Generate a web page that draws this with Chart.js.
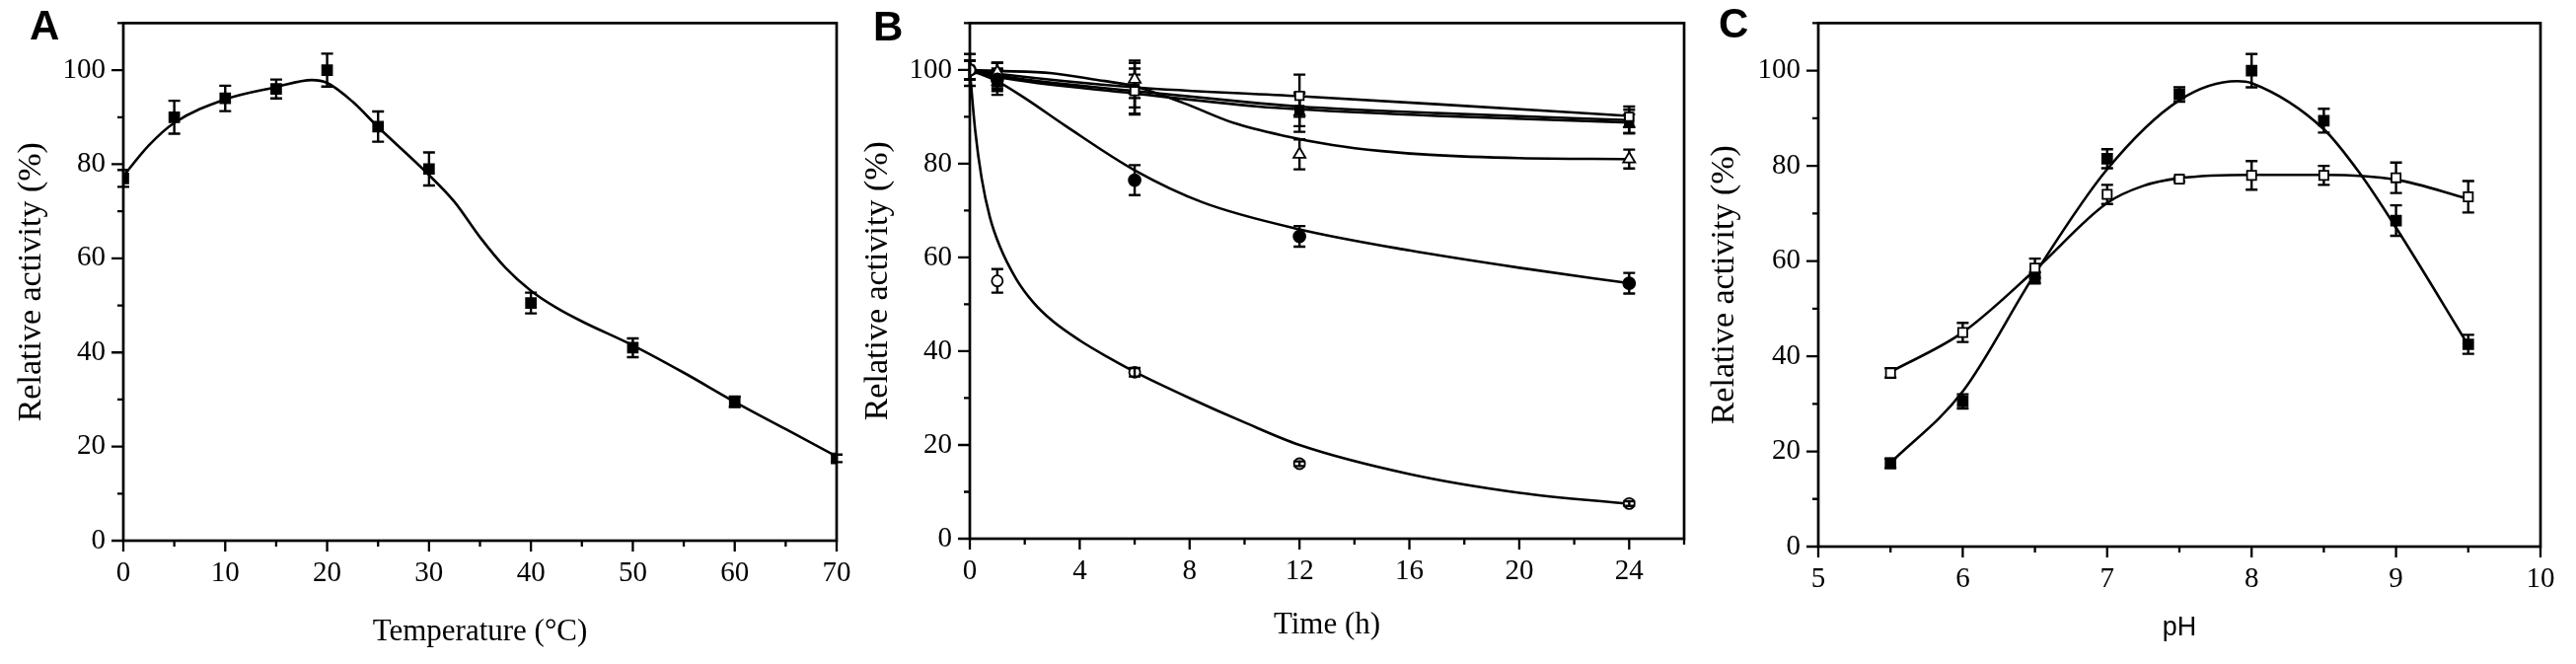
<!DOCTYPE html>
<html><head><meta charset="utf-8">
<script src="https://cdn.jsdelivr.net/npm/chart.js@4.4.0/dist/chart.umd.min.js"></script>
<style>
html,body{margin:0;padding:0;background:#fff;width:2611px;height:673px;overflow:hidden;}
.pane{position:absolute;top:0;height:673px;}
.letter{position:absolute;font:bold 42px "Liberation Sans",Arial,sans-serif;line-height:42px;color:#000;z-index:5;}
</style></head><body>
<div class="pane" style="left:0;width:870px"><canvas id="cA" width="870" height="673"></canvas></div>
<div class="pane" style="left:870px;width:855px"><canvas id="cB" width="855" height="673"></canvas></div>
<div class="pane" style="left:1725px;width:886px"><canvas id="cC" width="886" height="673"></canvas></div>
<div class="letter" style="left:30px;top:5px">A</div>
<div class="letter" style="left:885px;top:6px">B</div>
<div class="letter" style="left:1742px;top:3px">C</div>
<script>
// ---------- Panel A: temperature ----------
const tempX   = [0, 5, 10, 15, 20, 25, 30, 40, 50, 60, 70];
const tempY   = [77, 90, 94, 96, 100, 88, 79, 50.5, 41, 29.5, 17.5];
const tempErr = [1.8, 3.5, 2.7, 2, 3.5, 3.2, 3.5, 2.2, 2, 1.1, 0.8];
const tempFitX = [0, 2.5, 5, 10, 15, 18.5, 20, 22.5, 25, 30, 32.5, 35, 37.5, 40, 42.5, 45, 50, 55, 60, 65, 70];
const tempFitY = [77.5, 84, 88.8, 93.8, 96.4, 97.9, 97.3, 93.3, 87.9, 77.7, 72, 64.5, 58, 53.1, 49.5, 46.6, 41.5, 35.7, 29.5, 23.7, 17.9];

// ---------- Panel B: time ----------
const timeX = [0, 1, 6, 12, 24];
const bOpenCircle      = [100, 55, 35.5, 16, 7.5];
const bOpenCircleErr   = [3.4, 2.5, 0.9, 0.5, 0.5];
const bFilledCircle    = [100, 98, 76.5, 64.5, 54.5];
const bFilledCircleErr = [2, 2, 3.2, 2.2, 2.2];
const bOpenTri         = [100, 99.5, 98, 82, 81];
const bOpenTriErr      = [2, 2, 4, 3.2, 2];
const bOpenSq          = [100, 99, 95.5, 94.5, 90];
const bOpenSqErr       = [2, 2.5, 3.5, 4.5, 2.2];
const bFilledSq        = [100, 98.5, 96, 91.5, 89];
const bFilledSqErr     = [2, 3, 5.5, 3.5, 2.5];
const bFilledTri       = [100, 97.5, 95.5, 91, 88.5];
const bFilledTriErr    = [2, 2.8, 4.8, 4.2, 2];

const fitOpenCircleX = [0, 0.19, 0.43, 0.73, 1.09, 1.69, 2.3, 3, 4, 5, 6, 8, 10, 12, 16, 20, 24];
const fitOpenCircleY = [100, 87.4, 76.9, 68.6, 62.4, 55.4, 50.5, 46.5, 42.3, 38.8, 35.6, 30, 24.8, 20, 13.8, 9.8, 7.4];
const fitFilledCircleX = [0, 1, 2, 3.5, 6, 8.5, 12, 16, 20, 24];
const fitFilledCircleY = [100, 97.6, 94, 88, 78.6, 71.7, 66, 61.5, 57.8, 54.5];
const fitOpenTriX = [0, 1, 3, 4.5, 6, 7.8, 9.6, 11.4, 13.2, 15, 16.75, 20, 24];
const fitOpenTriY = [100, 99.8, 99.3, 98, 96.5, 92.9, 88.7, 86, 84, 82.7, 81.9, 81.2, 81];
const fitOpenSqX = [0, 1, 6, 12, 17, 24];
const fitOpenSqY = [100, 99.2, 96.3, 94.4, 92.7, 90.2];
const fitFilledSqX = [0, 1, 6, 10.5, 12, 17, 24];
const fitFilledSqY = [100, 98.8, 95.5, 92.9, 92.2, 90.8, 89.3];
const fitFilledTriX = [0, 1, 6, 10.5, 12, 17, 24];
const fitFilledTriY = [100, 98.5, 95, 92.2, 91.6, 90.2, 88.8];

// ---------- Panel C: pH ----------
const phX = [5.5, 6, 6.5, 7, 7.5, 8, 8.5, 9, 9.5];
const phFilled    = [17.5, 30.5, 56.5, 81.5, 95, 100, 89.5, 68.5, 42.5];
const phFilledErr = [1, 1.5, 1.2, 2, 1.5, 3.5, 2.5, 3.2, 2];
const phOpen      = [36.5, 45, 58.5, 74, 77.2, 78, 78, 77.5, 73.5];
const phOpenErr   = [1, 2, 2, 2, 0.5, 3, 2, 3.2, 3.3];
const phFilledFitX = [5.5, 6, 6.5, 7, 7.5, 7.9, 8, 8.5, 8.75, 9, 9.5];
const phFilledFitY = [17.6, 32.6, 57.3, 79.3, 93.8, 97.8, 97.4, 87.7, 78.4, 67, 42.3];
const phOpenFitX = [5.5, 6, 6.5, 7, 7.25, 7.5, 8, 8.5, 9, 9.5];
const phOpenFitY = [36.7, 45, 58.1, 72.2, 75.8, 77.4, 78.1, 78.1, 77.1, 73.1];

// ---------- helpers ----------
function pts(xs, ys) { return xs.map((x, i) => ({x: x, y: ys[i]})); }
function isMult(v, m) { const q = v / m; return Math.abs(q - Math.round(q)) < 1e-6; }
function markerSet(xs, ys, errs, style, fill, r, errOnTopFrom) {
  return {data: pts(xs, ys), err: errs, errTopFrom: errOnTopFrom, showLine: false, pointStyle: style,
    pointRadius: r, pointHoverRadius: r, pointBackgroundColor: fill,
    pointBorderColor: '#000', pointBorderWidth: 1.8, backgroundColor: fill, borderColor: '#000'};
}
function fitSet(xs, ys) {
  return {data: pts(xs, ys), showLine: true, pointRadius: 0, pointHoverRadius: 0,
    borderColor: '#000', borderWidth: 2.6, cubicInterpolationMode: 'monotone', fill: false};
}

function drawErr(chart, onTop) {
  const ctx = chart.ctx, xs = chart.scales.x, ys = chart.scales.y;
  ctx.save();
  ctx.strokeStyle = '#000';
  ctx.lineWidth = 2.4;
  chart.data.datasets.forEach(ds => {
    if (!ds.err) return;
    const from = (ds.errTopFrom === undefined) ? Infinity : ds.errTopFrom;
    ds.data.forEach((p, i) => {
      if ((i >= from) !== onTop) return;
      const e = ds.err[i];
      const px = xs.getPixelForValue(p.x);
      const y1 = ys.getPixelForValue(p.y + e), y2 = ys.getPixelForValue(p.y - e);
      const cw = 6;
      ctx.beginPath();
      ctx.moveTo(px, y1); ctx.lineTo(px, y2);
      ctx.moveTo(px - cw, y1); ctx.lineTo(px + cw, y1);
      ctx.moveTo(px - cw, y2); ctx.lineTo(px + cw, y2);
      ctx.stroke();
    });
  });
  ctx.restore();
}
const errorBars = {
  id: 'errorBars',
  beforeDatasetsDraw(chart) { drawErr(chart, false); },
  afterDatasetsDraw(chart) { drawErr(chart, true); }
};

const frame = {
  id: 'frame',
  afterDraw(chart, args, opts) {
    const ctx = chart.ctx, a = chart.chartArea, xs = chart.scales.x, ys = chart.scales.y;
    ctx.save();
    ctx.strokeStyle = '#000';
    ctx.lineWidth = 2.7;
    ctx.strokeRect(a.left, a.top, a.right - a.left, a.bottom - a.top);
    ctx.lineWidth = 2.3;
    ctx.beginPath();
    xs.ticks.forEach(t => {
      const px = xs.getPixelForValue(t.value);
      const len = isMult(t.value, opts.xMajor) ? 11 : 6;
      ctx.moveTo(px, a.bottom); ctx.lineTo(px, a.bottom + len);
    });
    ys.ticks.forEach(t => {
      const py = ys.getPixelForValue(t.value);
      const len = isMult(t.value, opts.yMajor) ? 12 : 6;
      ctx.moveTo(a.left, py); ctx.lineTo(a.left - len, py);
    });
    ctx.stroke();
    ctx.restore();
  }
};

const serif = 'Liberation Serif';
function makeChart(id, p) {
  return new Chart(document.getElementById(id), {
    type: 'scatter',
    data: {datasets: p.datasets},
    plugins: [errorBars, frame],
    options: {
      responsive: false, animation: false, devicePixelRatio: 1,
      layout: {padding: {left: 0, top: 18, right: p.padRight, bottom: 0}},
      plugins: {legend: {display: false}, tooltip: {enabled: false},
        frame: {xMajor: p.xMajor, yMajor: 20}},
      scales: {
        x: {
          type: 'linear', min: p.xMin, max: p.xMax,
          ticks: {stepSize: p.xMinor, autoSkip: false, maxRotation: 0, minRotation: 0, padding: 4,
            color: '#000', font: {family: serif, size: 29},
            callback: v => isMult(v, p.xMajor) ? String(Math.round(v * 100) / 100) : ''},
          grid: {display: true, drawOnChartArea: false, drawTicks: true, tickLength: 12, color: 'rgba(0,0,0,0)'},
          border: {display: false},
          title: {display: true, text: p.xTitle, color: '#000', font: p.xTitleFont,
            padding: {top: 0, bottom: p.xTitlePad}},
          afterFit: s => { s.height = p.xAxisH; }
        },
        y: {
          type: 'linear', min: 0, max: 110,
          ticks: {stepSize: 10, autoSkip: false, padding: 6, color: '#000',
            font: {family: serif, size: 29},
            callback: v => isMult(v, 20) ? String(v) : ''},
          grid: {display: true, drawOnChartArea: false, drawTicks: true, tickLength: 12, color: 'rgba(0,0,0,0)'},
          border: {display: false},
          title: {display: true, text: 'Relative activity (%)', color: '#000',
            font: {family: serif, size: 34}, padding: {top: p.yTitlePad, bottom: 0}},
          afterFit: s => { s.width = p.yAxisW; }
        }
      }
    }
  });
}

makeChart('cA', {
  datasets: [
    markerSet(tempX, tempY, tempErr, 'rect', '#000', 7),
    fitSet(tempFitX, tempFitY)
  ],
  xMin: 0, xMax: 70, xMinor: 5, xMajor: 10,
  xTitle: 'Temperature (°C)', xTitleFont: {family: serif, size: 31}, xTitlePad: 14,
  yTitlePad: 12, yAxisW: 125, xAxisH: 125, padRight: 22
});

makeChart('cB', {
  datasets: [
    markerSet(timeX, bOpenCircle, bOpenCircleErr, 'circle', '#fff', 5.5, 2),
    markerSet(timeX, bFilledCircle, bFilledCircleErr, 'circle', '#000', 6),
    markerSet(timeX, bOpenTri, bOpenTriErr, 'triangle', '#fff', 7),
    markerSet(timeX, bOpenSq, bOpenSqErr, 'rect', '#fff', 6),
    markerSet(timeX, bFilledSq, bFilledSqErr, 'rect', '#000', 6),
    markerSet(timeX, bFilledTri, bFilledTriErr, 'triangle', '#000', 6),
    fitSet(fitOpenCircleX, fitOpenCircleY),
    fitSet(fitFilledCircleX, fitFilledCircleY),
    fitSet(fitOpenTriX, fitOpenTriY),
    fitSet(fitOpenSqX, fitOpenSqY),
    fitSet(fitFilledSqX, fitFilledSqY),
    fitSet(fitFilledTriX, fitFilledTriY)
  ],
  xMin: 0, xMax: 26, xMinor: 2, xMajor: 4,
  xTitle: 'Time (h)', xTitleFont: {family: serif, size: 31}, xTitlePad: 21,
  yTitlePad: 0, yAxisW: 113, xAxisH: 127, padRight: 18
});

makeChart('cC', {
  datasets: [
    markerSet(phX, phFilled, phFilledErr, 'rect', '#000', 7),
    markerSet(phX, phOpen, phOpenErr, 'rect', '#fff', 6.5),
    fitSet(phFilledFitX, phFilledFitY),
    fitSet(phOpenFitX, phOpenFitY)
  ],
  xMin: 5, xMax: 10, xMinor: 0.5, xMajor: 1,
  xTitle: 'pH', xTitleFont: {family: 'Liberation Sans', size: 27}, xTitlePad: 20,
  yTitlePad: 3, yAxisW: 118, xAxisH: 119, padRight: 36
});
</script>
</body></html>
